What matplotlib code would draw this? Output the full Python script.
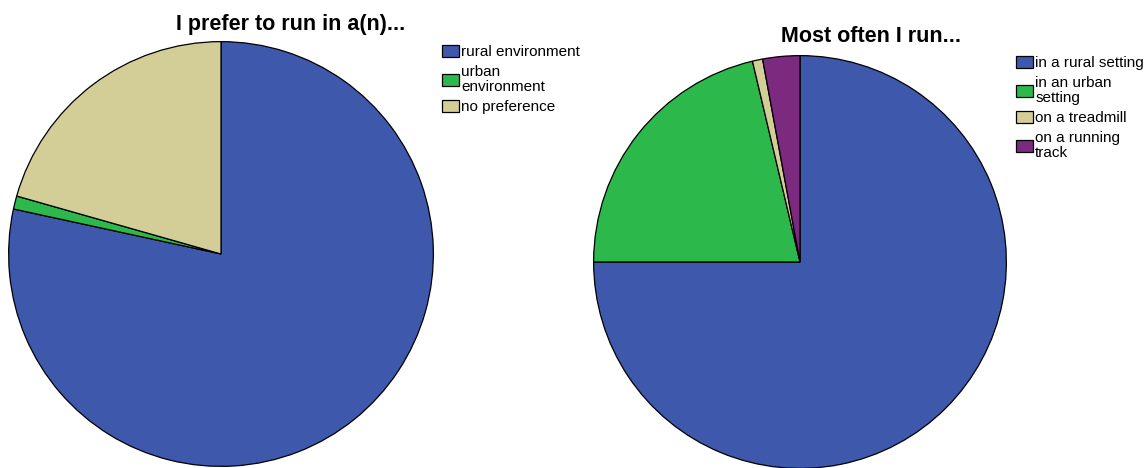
import matplotlib.pyplot as plt

plt.rcParams['font.family'] = ['Liberation Sans', 'DejaVu Sans']

# share of respondents (%)
prefer_labels = ["rural environment", "urban\nenvironment", "no preference"]
prefer_values = [78.4, 1.0, 20.6]

often_labels = ["in a rural setting", "in an urban\nsetting", "on a treadmill", "on a running\ntrack"]
often_values = [75.0, 21.3, 0.8, 2.9]

colors = ["#3E58AC", "#2DB84B", "#D3CE97", "#7B2A80"]

W, H = 1148, 468
fig = plt.figure(figsize=(W / 100, H / 100), dpi=100)


def px_axes(x0, y0, w, h):
    # pixel box (top-left origin) -> figure fraction
    return fig.add_axes([x0 / W, (H - y0 - h) / H, w / W, h / H])


def draw_pie(ax, values, labels, title, title_xy, legend_xy):
    wedges, _ = ax.pie(values, colors=colors[:len(values)], startangle=90,
                       counterclock=False,
                       wedgeprops=dict(edgecolor="black", linewidth=0.9))
    ax.set_xlim(-1.003, 1.003)
    ax.set_ylim(-1.003, 1.003)
    ax.set_aspect("equal")
    fig.text(title_xy[0] / W, 1 - title_xy[1] / H, title, ha="center", va="baseline",
             fontsize=15.5, fontweight="bold")
    leg = fig.legend(wedges, labels, loc="upper left",
                     bbox_to_anchor=(legend_xy[0] / W, 1 - legend_xy[1] / H),
                     frameon=False, fontsize=11, handlelength=1.1, handleheight=0.85,
                     handletextpad=0.15, labelspacing=0.38, borderpad=0, borderaxespad=0)
    for t in leg.get_texts():
        t.set_linespacing(1.1)


ax1 = px_axes(8, 41, 426, 426)
draw_pie(ax1, prefer_values, prefer_labels, "I prefer to run in a(n)...", (291, 30), (442, 45))

ax2 = px_axes(593, 55, 414, 414)
draw_pie(ax2, often_values, often_labels, "Most often I run...", (871, 42), (1016, 56))

fig.savefig("out.png", dpi=100)
